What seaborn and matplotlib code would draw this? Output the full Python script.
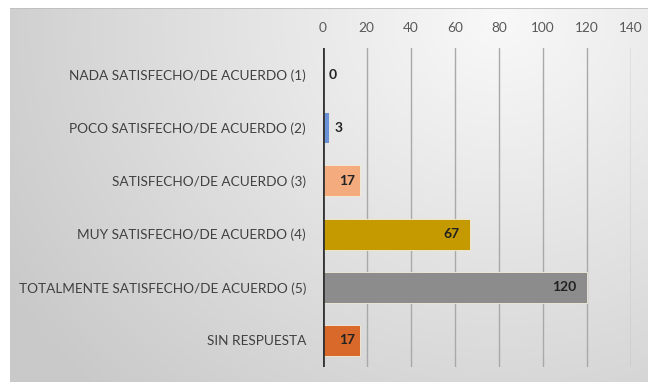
import numpy as np
import pandas as pd
import matplotlib
matplotlib.use("Agg")
import matplotlib.pyplot as plt
import seaborn as sns

categories = [
    "NADA SATISFECHO/DE ACUERDO (1)",
    "POCO SATISFECHO/DE ACUERDO (2)",
    "SATISFECHO/DE ACUERDO (3)",
    "MUY SATISFECHO/DE ACUERDO (4)",
    "TOTALMENTE SATISFECHO/DE ACUERDO (5)",
    "SIN RESPUESTA",
]
values = [0, 3, 17, 67, 120, 17]
bar_colors = ["#4a7bd0", "#6b92d8", "#f4ab7e", "#c49a00", "#8c8c8c", "#d9692a"]
x_ticks = [0, 20, 40, 60, 80, 100, 120, 140]

sns.set_theme(style="white")
plt.rcParams["font.family"] = ["Lato", "DejaVu Sans"]

W, H = 649, 382
fig = plt.figure(figsize=(W / 100, H / 100), dpi=100)
fig.patch.set_facecolor("white")

# soft radial gradient panel behind the chart
bg = fig.add_axes([10 / W, 0, 638 / W, 1 - 8 / H])
bg.set_axis_off()
gx, gy = np.meshgrid(np.linspace(10, 648, 400), np.linspace(8, 382, 240))
d = np.hypot(gx - 500, (gy - 20) * 1.1)
light = np.clip(0.975 - d / 560 * 0.18, 0.79, 0.975)
bg.imshow(np.dstack([light, light, light]), aspect="auto",
          extent=[0, 1, 0, 1], origin="upper")
bg.set_xlim(0, 1)
bg.set_ylim(0, 1)
bg.plot([0, 1], [1, 1], color="#bdbdbd", lw=1.2, transform=bg.transAxes)

ax = fig.add_axes([322.7 / W, 1 - 367 / H, (631 - 322.7) / W, (367 - 48) / H])
ax.patch.set_alpha(0)

df = pd.DataFrame({"categoria": categories, "valor": values})
sns.barplot(data=df, y="categoria", x="valor", hue="categoria",
            palette=bar_colors, order=categories, hue_order=categories,
            orient="h", width=0.58, legend=False, ax=ax, saturation=1,
            edgecolor="#f3eedc", linewidth=0.6)

ax.set_xlim(0, 140)
ax.set_ylim(5.5, -0.5)
ax.set_xticks(x_ticks)
ax.xaxis.tick_top()
ax.tick_params(axis="x", length=0, pad=10, labelsize=9.8, labelcolor="#595959")
ax.tick_params(axis="y", length=0, pad=12, labelsize=9.8, labelcolor="#404040")
ax.set_xlabel("")
ax.set_ylabel("")
for s in ax.spines.values():
    s.set_visible(False)

for t in x_ticks[1:]:
    ax.axvline(t, color="#a9a9a9", lw=1.0, zorder=0)
ax.axvline(0, color="#333333", lw=2.0, zorder=5)

for i, v in enumerate(values):
    if v < 10:
        ax.text(v + 2.5, i, f"{v}", ha="left", va="center",
                fontsize=10, fontweight="bold", color="#222222")
    else:
        off = 2.5 if v < 30 else 5
        ax.text(v - off, i, f"{v}", ha="right", va="center",
                fontsize=10, fontweight="bold", color="#222222")

fig.savefig("out.png", dpi=100)
